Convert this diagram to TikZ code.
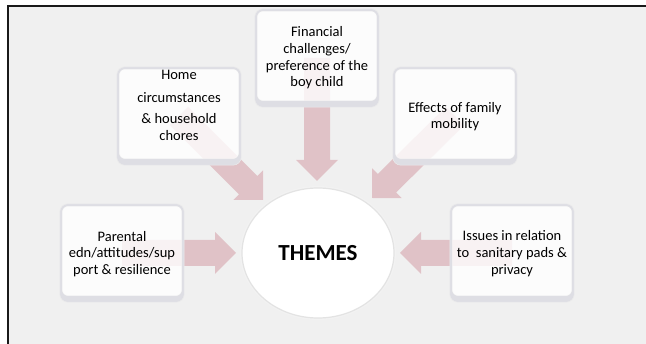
\documentclass[tikz,border=0pt]{standalone}
\usepackage{fontspec}
\setmainfont{Carlito}
\usetikzlibrary{calc,shapes.geometric}

\definecolor{bgcol}{RGB}{240,240,240}
\definecolor{framecol}{RGB}{25,25,25}
\definecolor{arrowpink}{RGB}{205,140,150}
\definecolor{rimcol}{RGB}{222,222,228}

\pgfdeclarelayer{back}
\pgfdeclarelayer{arrowlayer}
\pgfsetlayers{back,arrowlayer,main}

\tikzset{
  boxshape/.style={rectangle, minimum width=124pt, minimum height=98pt, inner sep=0pt},
  boxrim/.style={fill=rimcol, even odd rule, draw=gray!15, line width=0.5pt},
  boxface/.style={fill=white, fill opacity=0.8, rounded corners=6pt},
  boxtext/.style={align=center, font=\fontsize{14.5}{16.7}\selectfont, text=black, inner sep=0pt},
  hub/.style={ellipse, minimum width=152pt, minimum height=130pt, inner sep=0pt,
    fill=white, draw=gray!22, line width=1.2pt,
    preaction={draw=gray!10, line width=4pt},
    font=\bfseries\fontsize{23}{26}\selectfont},
  arrowbody/.style={fill=arrowpink, fill opacity=0.45},
}

% bevelled rounded box: #1 name, #2 centre
\newcommand\bevelbox[2]{%
  \node[boxshape] (#1) at (#2) {};
  \path[boxrim]
    [rounded corners=8pt] (#1.north west) rectangle (#1.south east)
    [rounded corners=6pt] ($(#1.north west)+(2.5,2.5)$) rectangle ($(#1.south east)+(-2.5,-6.5)$);
  \fill[boxface] ($(#1.north west)+(2.5,2.5)$) rectangle ($(#1.south east)+(-2.5,-6.5)$);
}

% block arrow from #1 (start) to #2 (tip)
\newcommand\sw{13}   % half shaft width
\newcommand\hw{21}   % half head width
\newcommand\hl{21}   % head length
\newcommand\blockarrow[2]{%
  \coordinate (#1-#2-h) at ($(#2)!\hl pt!(#1)$);
  \fill[arrowbody]
    ($(#1)!\sw pt!90:(#2)$) --
    ($(#1-#2-h)!\sw pt!90:(#2)$) --
    ($(#1-#2-h)!\hw pt!90:(#2)$) --
    (#2) --
    ($(#1-#2-h)!\hw pt!-90:(#2)$) --
    ($(#1-#2-h)!\sw pt!-90:(#2)$) --
    ($(#1)!\sw pt!-90:(#2)$) -- cycle;
}

\begin{document}
\begin{tikzpicture}[x=1pt,y=-1pt]
  \useasboundingbox (0,0) rectangle (646,344);

  % backdrop and frame
  \begin{pgfonlayer}{back}
    \fill[white] (0,0) rectangle (646,344);
    \fill[bgcol] (8,6) rectangle (646,344);
    \draw[framecol, line width=1.3pt] (8,344) -- (8,6) -- (646,6);
  \end{pgfonlayer}

  % central hub
  \node[hub] (themes) at (318,253) {THEMES};

  % surrounding boxes
  \bevelbox{fin}{317,58}
  \bevelbox{home}{179,116}
  \bevelbox{mob}{455,116}
  \bevelbox{par}{122,253}
  \bevelbox{pads}{512,253}

  % texts
  \node[boxtext] (fin-text) at (fin) {Financial\\challenges/\\preference of the\\boy child};
  \node[boxtext] (home-text) at ($(home)+(0,-11)$) {Home\\[7pt]circumstances\\[4pt]\& household\\chores};
  \node[boxtext] (mob-text) at ($(mob)+(0,0.5)$) {Effects of family\\mobility};
  \node[boxtext] (par-text) at ($(par)+(0,1)$) {Parental\\edn/attitudes/sup\\port \& resilience};
  \node[boxtext] (pads-text) at ($(pads)+(0,0.5)$) {Issues in relation\\to~ sanitary pads \&\\privacy};

  % arrow tips next to the hub
  \coordinate (tip-fin) at (317,181);
  \coordinate (tip-home) at (263,200);
  \coordinate (tip-mob) at (372,198);
  \coordinate (tip-par) at (236,253);
  \coordinate (tip-pads) at (400,253);

  % block arrows pointing at the hub
  \begin{pgfonlayer}{arrowlayer}
    \blockarrow{fin}{tip-fin}
    \blockarrow{home}{tip-home}
    \blockarrow{mob}{tip-mob}
    \blockarrow{par}{tip-par}
    \blockarrow{pads}{tip-pads}
  \end{pgfonlayer}
\end{tikzpicture}
\end{document}
